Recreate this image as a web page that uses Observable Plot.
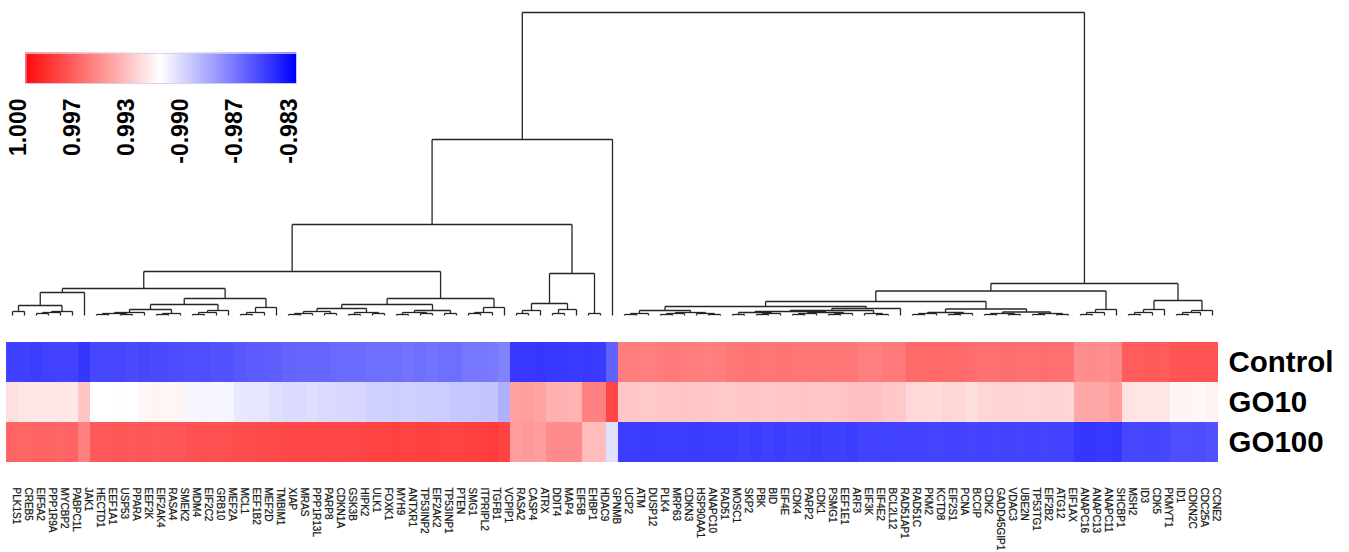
<!DOCTYPE html>
<html><head><meta charset="utf-8">
<script src="https://cdn.jsdelivr.net/npm/d3@7"></script>
<script src="https://cdn.jsdelivr.net/npm/@observablehq/plot@0.6"></script>
<style>
html,body{margin:0;padding:0;background:#fff;overflow:hidden;}
#chart{position:relative;width:1349px;height:552px;font-family:"Liberation Sans",Arial,sans-serif;}
#chart svg{position:absolute;}
</style></head><body><div id="chart"></div>
<script>
const genes = ["PLK1S1","CREB5","EIF5A2","PPP1R9A","MYCBP2","PABPC1L","JAK1","HECTD1","EEF1A1","USP53","PPARA","EEF2K","EIF2AK4","RASA4","SMEK2","MDM4","EIF2C2","GRB10","MEF2A","MCL1","EEF1B2","MEF2D","TMBIM1","XIAP","MRAS","PPP1R13L","PARP8","CDKN1A","GSK3B","HIPK2","ULK1","FOXK1","MYH9","ANTXR1","TP53INP2","EIF2AK2","TP53INP1","PTEN","SMG1","ITPRIPL2","TGFB1","VCPIP1","RASA2","CASP4","ATRX","DDIT4","MAP4","EIF5B","EHBP1","HDAC9","GPNMB","UCP2","ATM","DUSP12","PLK4","MRP63","CDKN3","HSP90AA1","ANAPC10","RAD51","MOSC1","SKP2","PBK","BID","EIF4E","CDK4","PARP2","CDK1","PSMG1","EEF1E1","ARF3","EIF3K","EIF4E2","BCL2L12","RAD51AP1","RAD51C","PKM2","KCTD8","EIF2S1","PCNA","BCCIP","CDK2","GADD45GIP1","VDAC3","UBE2N","TP53TG1","EIF2B2","ATG12","EIF1AX","ANAPC16","ANAPC13","ANAPC11","SHCBP1","MSH2","ID3","CDK5","PKMYT1","ID1","CDKN2C","CDC25A","CCNE2"];

const rows = ["Control","GO10","GO100"];

const controlVals = [-0.75,-0.75,-0.76,-0.75,-0.74,-0.74,-0.79,
 -0.72,-0.72,-0.72,-0.71,-0.72,-0.71,-0.71,-0.70,
 -0.69,-0.69,-0.68,-0.68,
 -0.65,-0.64,-0.64,-0.63,
 -0.61,-0.60,-0.60,-0.60,-0.59,
 -0.58,-0.58,-0.57,
 -0.56,-0.56,-0.55,-0.56,-0.55,
 -0.57,-0.57,
 -0.53,-0.53,-0.52,
 -0.49,
 -0.78,-0.78,-0.79,-0.78,-0.78,-0.77,-0.78,-0.77,
 -0.62,
 0.51,0.51,0.50,0.51,0.52,0.51,0.51,0.50,0.51,
 0.53,0.54,0.54,0.53,0.54,0.54,0.53,0.54,0.53,0.54,0.53,
 0.50,0.50,0.52,0.52,
 0.58,0.58,0.59,0.58,0.58,0.57,0.56,0.56,0.57,0.56,0.56,0.57,0.56,0.56,
 0.44,0.45,0.44,0.46,
 0.64,0.64,0.65,0.64,
 0.67,0.67,0.68,0.67];

const go10Vals = [0.12,0.10,0.09,0.09,0.10,0.09,0.23,
 0.00,0.00,0.01,0.00,0.03,0.04,0.03,0.04,
 -0.03,-0.04,-0.03,-0.04,
 -0.09,-0.10,-0.10,-0.13,
 -0.14,-0.14,-0.13,-0.14,-0.15,
 -0.15,-0.16,-0.18,
 -0.18,-0.19,-0.18,-0.19,-0.20,
 -0.20,-0.22,
 -0.22,-0.23,-0.23,
 -0.31,
 0.37,0.38,0.36,0.31,0.31,0.30,0.50,0.50,
 0.73,
 0.22,0.22,0.21,0.22,0.22,0.23,0.22,0.22,0.21,
 0.21,0.22,0.22,0.21,0.22,0.22,0.23,0.22,0.22,0.23,0.24,
 0.25,0.24,0.22,0.21,
 0.15,0.15,0.14,0.16,0.15,0.13,0.16,0.17,0.17,0.17,0.16,0.17,0.17,0.16,
 0.34,0.34,0.35,0.39,
 0.11,0.10,0.10,0.10,
 0.04,0.04,0.03,0.05];

const go100Vals = [0.61,0.60,0.61,0.61,0.60,0.61,0.50,
 0.65,0.65,0.66,0.65,0.66,0.65,0.66,0.66,
 0.68,0.69,0.68,0.69,
 0.70,0.70,0.71,0.71,
 0.72,0.72,0.72,0.73,0.72,
 0.73,0.73,0.74,
 0.74,0.75,0.74,0.75,0.75,
 0.74,0.74,
 0.75,0.75,0.76,
 0.74,
 0.39,0.40,0.39,0.45,0.46,0.45,0.26,0.26,
 -0.12,
 -0.76,-0.76,-0.77,-0.76,-0.76,-0.76,-0.77,-0.76,-0.76,
 -0.76,-0.75,-0.76,-0.75,-0.76,-0.75,-0.75,-0.76,-0.75,-0.75,-0.76,
 -0.74,-0.74,-0.75,-0.74,
 -0.74,-0.74,-0.73,-0.74,-0.74,-0.73,-0.74,-0.73,-0.74,-0.73,-0.74,-0.73,-0.74,-0.74,
 -0.79,-0.79,-0.78,-0.79,
 -0.72,-0.72,-0.73,-0.72,
 -0.69,-0.69,-0.70,-0.68];

// dendrogram merges: [node, left, right, height]
const merges = [
 ["c1","PLK1S1","CREB5",4],["c2","EIF5A2","PPP1R9A",2],["c3","c2","MYCBP2",3],["c4","c3","PABPC1L",4],
 ["c5","c1","c4",10],["c6","c5","JAK1",23],
 ["c7","HECTD1","EEF1A1",1],["c8","USP53","PPARA",1],["c9","c7","c8",2],["c10","c9","EEF2K",3],
 ["c11","EIF2AK4","RASA4",1],["c12","c11","SMEK2",2],["c13","c10","c12",6],
 ["c14","MDM4","EIF2C2",1],["c15","c14","GRB10",3],["c16","c15","MEF2A",5],["c17","c13","c16",11],
 ["c18","MCL1","EEF1B2",1],["c19","c18","MEF2D",3],["c20","c19","TMBIM1",8],["c21","c17","c20",17],
 ["c22","c6","c21",27],
 ["c23","XIAP","MRAS",1],["c24","c23","PPP1R13L",2],["c25","PARP8","CDKN1A",2],["c26","c24","c25",4],
 ["c27","GSK3B","HIPK2",1],["c28","ULK1","FOXK1",2],["c29","c27","c28",3],["c30","c26","c29",7],
 ["c31","MYH9","ANTXR1",1],["c32","TP53INP2","EIF2AK2",2],["c33","c31","c32",3],["c34","TP53INP1","PTEN",2],["c35","c33","c34",5],
 ["c36","c30","c35",11],
 ["c37","SMG1","ITPRIPL2",2],["c38","c37","TGFB1",3],["c39","c38","VCPIP1",8],["c40","c36","c39",17],
 ["c41","c22","c40",44],
 ["c42","RASA2","CASP4",2],["c43","c42","ATRX",5],["c44","DDIT4","MAP4",2],["c45","c44","EIF5B",6],["c46","c43","c45",12],
 ["c47","EHBP1","HDAC9",2],["c48","c46","c47",42],
 ["c49","c41","c48",91],["c50","c49","GPNMB",176],
 ["d1","UCP2","ATM",1],["d2","d1","DUSP12",2],["d3","PLK4","MRP63",1],["d4","d3","CDKN3",2],["d5","ANAPC10","RAD51",1],["d6","HSP90AA1","d5",2],["d7","d4","d6",3],["d8","d2","d7",5],
 ["d9","MOSC1","SKP2",1],["d10","PBK","BID",1],["d11","d10","EIF4E",2],["d12","d9","d11",3],
 ["d13","CDK4","PARP2",1],["d14","d13","CDK1",2],["d15","PSMG1","EEF1E1",1],["d16","d15","ARF3",2],["d17","d14","d16",3],["d18","d12","d17",4],
 ["d19","EIF4E2","BCL2L12",1],["d20","EIF3K","d19",2],["d21","d18","d20",5],["d22","d21","RAD51AP1",7],
 ["d23","d8","d22",9],
 ["d24","RAD51C","PKM2",1],["d25","d24","KCTD8",2],["d26","EIF2S1","PCNA",1],["d27","d26","BCCIP",2],["d28","d25","d27",3],
 ["d29","CDK2","GADD45GIP1",1],["d30","VDAC3","UBE2N",1],["d31","d29","d30",2],["d32","TP53TG1","EIF2B2",1],["d33","ATG12","EIF1AX",1],["d34","d32","d33",2],["d35","d31","d34",3.5],["d36","d28","d35",6.5],
 ["d37","d23","d36",14],
 ["d38","ANAPC16","ANAPC13",1],["d39","d38","ANAPC11",3],["d40","d39","SHCBP1",6],["d41","d37","d40",24.5],
 ["d42","MSH2","ID3",1],["d43","d42","CDK5",3],["d44","d43","PKMYT1",6],
 ["d45","ID1","CDKN2C",1],["d46","d45","CDC25A",3],["d47","d46","CCNE2",5],["d48","d44","d47",15],
 ["d49","d41","d48",32],
 ["root","c50","d49",303]
];

const legendTicks = ["1.000","0.997","0.993","-0.990","-0.987","-0.983"];
const legendTickPos = [1, 0.6, 0.2, -0.2, -0.6, -1];

const colorOpts = {type:"linear", domain:[-1,0,1], range:["#0000ff","#ffffff","#ff0000"], interpolate:"rgb"};

// dendrogram segments
const pos = new Map(genes.map((g,i)=>[g,{x:i,h:0}]));
const segs = [];
for (const [id,a,b,h] of merges) {
  const A = pos.get(a), B = pos.get(b);
  segs.push({x1:A.x,y1:A.h,x2:A.x,y2:h});
  segs.push({x1:A.x,y1:h,x2:B.x,y2:h});
  segs.push({x1:B.x,y1:B.h,x2:B.x,y2:h});
  pos.set(id,{x:(A.x+B.x)/2,h});
}

const cells = [];
[controlVals, go10Vals, go100Vals].forEach((vals,r)=>vals.forEach((v,i)=>cells.push({row:rows[r],gene:genes[i],value:v})));

const chart = document.getElementById("chart");

const dendro = Plot.plot({
  width:1349, height:330, marginTop:12, marginBottom:15, marginLeft:6, marginRight:131,
  x:{domain:[-0.5, genes.length-0.5], axis:null},
  y:{domain:[0, d3.max(merges,d=>d[3])], axis:null},
  style:{background:"transparent"},
  marks:[Plot.link(segs,{x1:"x1",y1:"y1",x2:"x2",y2:"y2",stroke:"#262626",strokeWidth:1.3})]
});
dendro.style.top = "0px"; dendro.style.left = "0px";
chart.appendChild(dendro);

const heat = Plot.plot({
  width:1349, height:222, marginTop:12, marginBottom:90, marginLeft:6, marginRight:131,
  x:{domain:genes, axis:null, padding:0},
  y:{domain:rows, axis:null, padding:0},
  color:colorOpts,
  style:{background:"transparent", overflow:"visible", fontFamily:"Liberation Sans, Arial, sans-serif"},
  marks:[
    Plot.cell(cells,{x:"gene",y:"row",fill:"value",inset:0}),
    Plot.text(rows,{y:d=>d,text:d=>d,frameAnchor:"right",textAnchor:"start",dx:10,fontSize:29.5,fontWeight:"bold",fill:"#000"}),
    Plot.text(genes,{x:d=>d,text:d=>d,frameAnchor:"bottom",rotate:90,textAnchor:"start",dy:25,fontSize:10,fill:"#1a1a1a",stroke:"#1a1a1a",strokeWidth:0.25})
  ]
});
heat.style.top = "330px"; heat.style.left = "0px";
chart.appendChild(heat);

const ramp = d3.range(0,272).map(k=>{const a = 1 - 2*k/272, b = 1 - 2*(k+1)/272; return {a,b,v:(a+b)/2};});
const legend = Plot.plot({
  width:320, height:170, marginTop:53, marginBottom:87, marginLeft:25.5, marginRight:24,
  x:{domain:[1,-1], axis:null},
  color:colorOpts,
  style:{background:"transparent", overflow:"visible", fontFamily:"Liberation Sans, Arial, sans-serif"},
  marks:[
    Plot.rect(ramp,{x1:"a",x2:"b",fill:"v",stroke:"v",strokeWidth:0.6}),
    Plot.frame({stroke:"#cfcfe6",strokeWidth:0.8}),
    Plot.text(legendTickPos,{x:d=>d,text:(d,i)=>legendTicks[i],frameAnchor:"bottom",dy:15,rotate:-90,textAnchor:"end",fontSize:23,fontWeight:"bold",fill:"#000"})
  ]
});
legend.style.top = "0px"; legend.style.left = "0px";
chart.appendChild(legend);
</script></body></html>
